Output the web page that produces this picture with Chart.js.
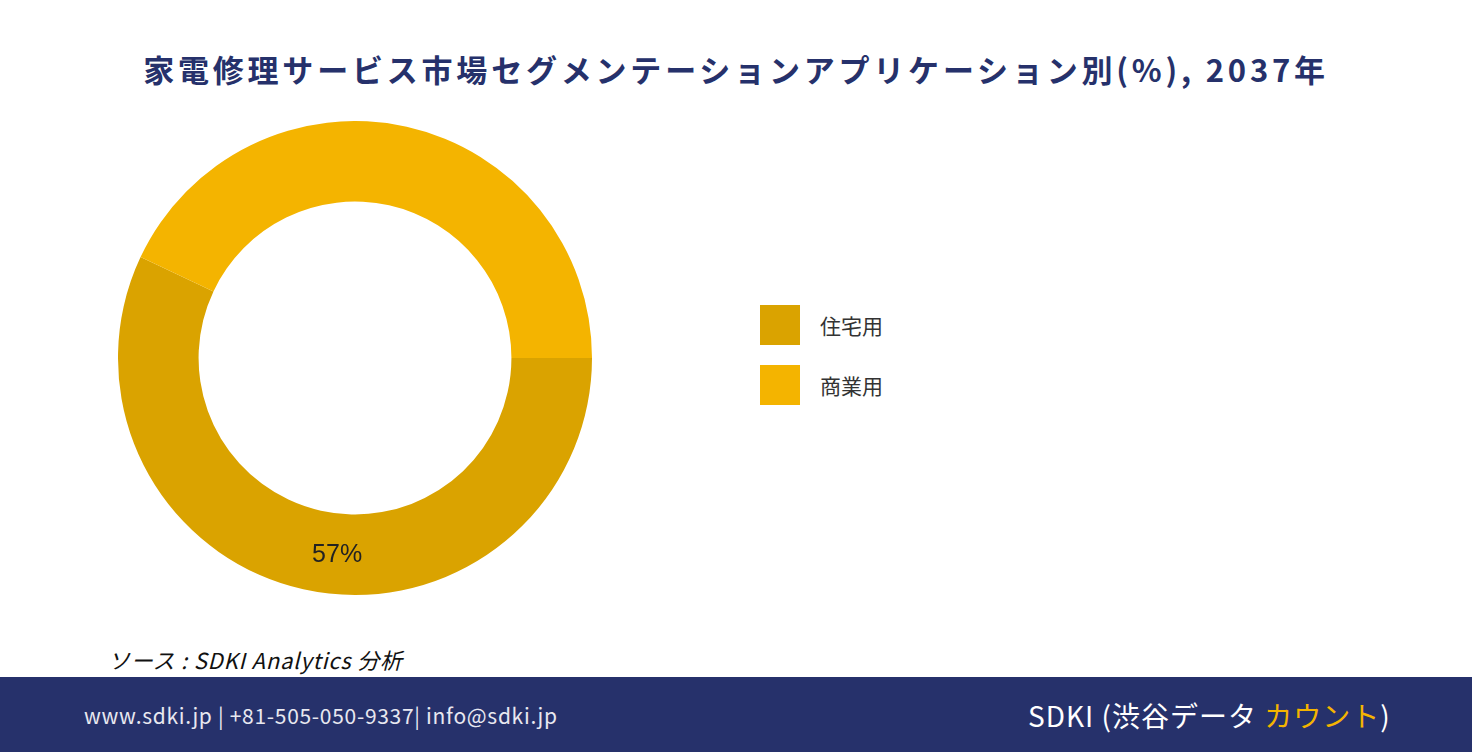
<!DOCTYPE html>
<html><head><meta charset="utf-8">
<script src="https://cdn.jsdelivr.net/npm/chart.js@4"></script>
<style>
body{margin:0;width:1472px;height:752px;background:#fff;font-family:"Noto Sans CJK JP","Noto Sans",sans-serif;position:relative;overflow:hidden}
#title{position:absolute;top:46px;left:0;width:1472px;text-align:center;font-size:31px;letter-spacing:3.8px;font-weight:bold;color:#26316b}
#wrap{position:absolute;left:118px;top:121px;width:474px;height:474px}
#legend{position:absolute;left:760px;top:305px;font-size:21px;color:#333}
.item{display:flex;align-items:center;height:40px;margin-bottom:20px}
.box{width:40px;height:40px;margin-right:20px}
#src{position:absolute;left:108px;top:643px;font-size:22px;letter-spacing:0.8px;font-style:italic;color:#111}
#foot{position:absolute;left:0;top:677px;width:1472px;height:75px;background:#26316b;color:#fff}
#foot .l{position:absolute;left:84px;top:23px;font-size:21px;letter-spacing:0.7px;color:#e8e8f0}
#foot .r{position:absolute;left:1028px;top:18px;font-size:28px;letter-spacing:1px}
</style></head><body>
<div id="title">家電修理サービス市場セグメンテーションアプリケーション別(%), 2037年</div>
<div id="wrap"><canvas id="c"></canvas></div>
<div id="legend"></div>
<div id="src">ソース : SDKI Analytics 分析</div>
<div id="foot"><div class="l">www.sdki.jp | +81-505-050-9337| info@sdki.jp</div>
<div class="r">SDKI (渋谷データ <span style="color:#f4b400">カウント</span>)</div></div>
<script>
const labels = ['住宅用', '商業用'];
const values = [57, 43];
const shownLabels = ['57%', ''];
const colors = ['#daa300', '#f4b400'];

// 凡例
const lg = document.getElementById('legend');
labels.forEach((t, i) => {
  lg.innerHTML += `<div class="item"><div class="box" style="background:${colors[i]}"></div>${t}</div>`;
});

// セグメント内ラベル
const valueLabels = {
  id: 'valueLabels',
  afterDatasetsDraw(chart) {
    const ctx = chart.ctx;
    chart.getDatasetMeta(0).data.forEach((arc, i) => {
      if (!shownLabels[i]) return;
      const p = arc.tooltipPosition();
      ctx.save();
      ctx.font = '25px "Liberation Sans", Arial, sans-serif';
      ctx.fillStyle = '#222';
      ctx.textAlign = 'center';
      ctx.textBaseline = 'middle';
      ctx.fillText(shownLabels[i], p.x + 25, p.y + 5);
      ctx.restore();
    });
  }
};

new Chart(document.getElementById('c'), {
  type: 'doughnut',
  data: { labels: labels, datasets: [{ data: values, backgroundColor: colors, borderWidth: 0 }] },
  options: {
    responsive: true, maintainAspectRatio: false, animation: false,
    rotation: 90, cutout: '66%',
    plugins: { legend: { display: false }, tooltip: { enabled: false } }
  },
  plugins: [valueLabels]
});
</script>
</body></html>
